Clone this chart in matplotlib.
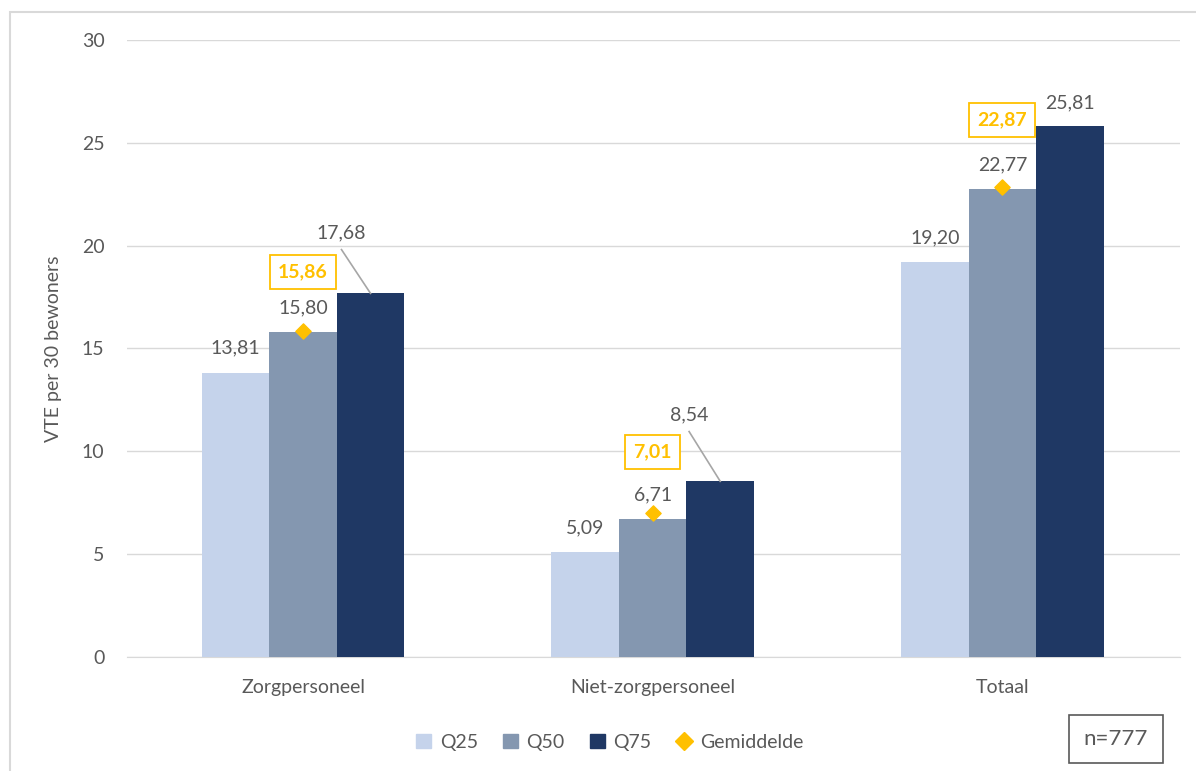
import matplotlib.pyplot as plt
import numpy as np
from matplotlib.patches import Rectangle
from matplotlib.lines import Line2D

plt.rcParams['font.family'] = ['Lato', 'DejaVu Sans']

categories = ['Zorgpersoneel', 'Niet-zorgpersoneel', 'Totaal']
q25 = [13.81, 5.09, 19.20]
q50 = [15.80, 6.71, 22.77]
q75 = [17.68, 8.54, 25.81]
gemiddelde = [15.86, 7.01, 22.87]
n_label = 'n=777'

c25, c50, c75, cmean = '#C5D3EB', '#8497B0', '#1F3864', '#FFC000'
txt = '#595959'

fig = plt.figure(figsize=(11.96, 7.71), dpi=100)
ax = fig.add_axes([0.106, 0.148, 0.881, 0.80])

x = np.arange(len(categories))
w = 0.193
ax.bar(x - w, q25, w, color=c25, label='Q25', zorder=3)
ax.bar(x, q50, w, color=c50, label='Q50', zorder=3)
ax.bar(x + w, q75, w, color=c75, label='Q75', zorder=3)
ax.scatter(x, gemiddelde, marker='D', s=60, color=cmean, zorder=5, label='Gemiddelde')

fs = 14
fmt = lambda v: f'{v:.2f}'.replace('.', ',')

# label placement (offsets above the value, in data units)
mean_off = [2.86, 2.96, 3.24]
q75_pos = [(-0.083, 2.93), (-0.089, 3.22), (0.0, 1.12)]

for i in range(len(x)):
    ax.text(x[i] - w, q25[i] + 1.2, fmt(q25[i]), ha='center', va='center', fontsize=fs, color=txt)
    ax.text(x[i], q50[i] + 1.17, fmt(q50[i]), ha='center', va='center', fontsize=fs, color=txt)
    ax.text(x[i], gemiddelde[i] + mean_off[i], fmt(gemiddelde[i]), ha='center',
            va='center', fontsize=fs, color=cmean, fontweight='bold',
            bbox=dict(boxstyle='square,pad=0.42', fc='white', ec=cmean, lw=1.3), zorder=6)
    dx, dy = q75_pos[i]
    lx, ly = x[i] + w + dx, q75[i] + dy
    if dx != 0:
        ax.plot([lx, x[i] + w], [ly - 0.8, q75[i]], color='#A6A6A6', lw=1.2, zorder=4)
    ax.text(lx, ly, fmt(q75[i]), ha='center', va='center', fontsize=fs, color=txt)

ax.set_xlim(-0.504, 2.509)
ax.set_ylim(0, 30)
ax.set_yticks(range(0, 31, 5))
ax.set_xticks(x)
ax.set_xticklabels(categories)
ax.tick_params(axis='both', length=0, labelsize=fs, colors=txt)
ax.tick_params(axis='x', pad=16)
ax.tick_params(axis='y', pad=16)
ax.yaxis.grid(True, color='#D9D9D9', lw=1, zorder=0)
for s in ['top', 'right', 'left']:
    ax.spines[s].set_visible(False)
ax.spines['bottom'].set_color('#D9D9D9')
ax.set_ylabel('VTE per 30 bewoners', fontsize=fs, color=txt, labelpad=14)

handles = [Rectangle((0, 0), 1, 1, color=c25), Rectangle((0, 0), 1, 1, color=c50),
           Rectangle((0, 0), 1, 1, color=c75),
           Line2D([], [], marker='D', color=cmean, lw=0, markersize=9)]
fig.legend(handles, ['Q25', 'Q50', 'Q75', 'Gemiddelde'], loc='center', bbox_to_anchor=(0.51, 0.037),
           ncol=4, frameon=False, fontsize=fs, labelcolor=txt, handlelength=0.75, handleheight=0.75,
           columnspacing=1.3, handletextpad=0.45)

# outer chart frame
fig.patches.append(Rectangle((10 / 1196, -0.01), 1.02, 1 - 12 / 771 + 0.01, transform=fig.transFigure,
                             fill=False, ec='#D9D9D9', lw=1.5))
fig.text(1116 / 1196, 1 - 739 / 771, n_label, ha='center', va='center', fontsize=fs + 2, color=txt,
         bbox=dict(boxstyle='square,pad=0.65', fc='white', ec='#595959', lw=1.2))

fig.savefig('out.png', dpi=100)
